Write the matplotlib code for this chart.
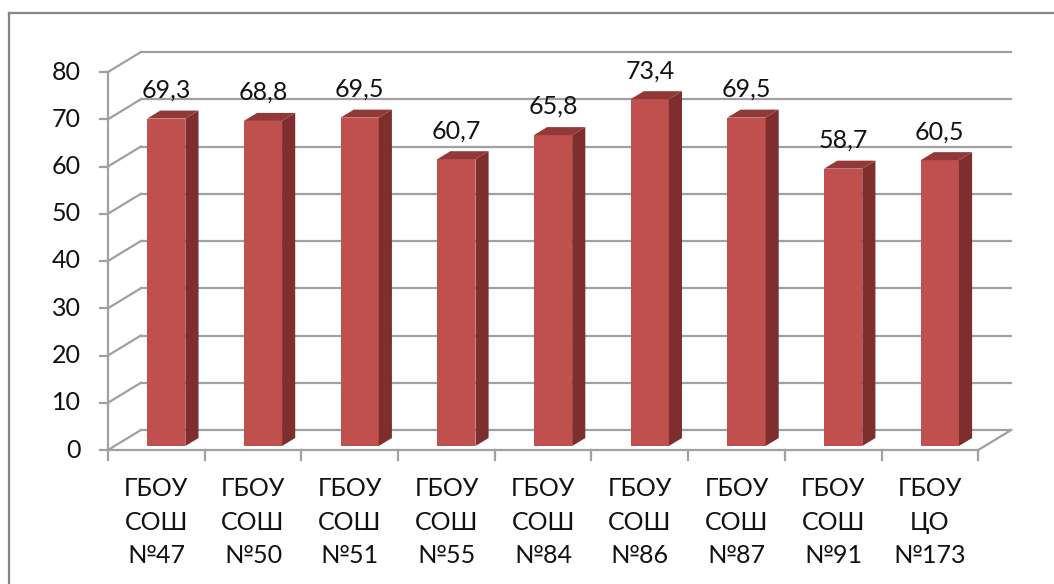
import numpy as np
import matplotlib.pyplot as plt
from matplotlib.patches import Polygon
from matplotlib.lines import Line2D

plt.rcParams['font.family'] = ['Lato', 'DejaVu Sans']

categories = ["ГБОУ\nСОШ\n№47", "ГБОУ\nСОШ\n№50", "ГБОУ\nСОШ\n№51",
              "ГБОУ\nСОШ\n№55", "ГБОУ\nСОШ\n№84", "ГБОУ\nСОШ\n№86",
              "ГБОУ\nСОШ\n№87", "ГБОУ\nСОШ\n№91", "ГБОУ\nЦО\n№173"]
values = [69.3, 68.8, 69.5, 60.7, 65.8, 73.4, 69.5, 58.7, 60.5]
labels = ["69,3", "68,8", "69,5", "60,7", "65,8", "73,4", "69,5", "58,7", "60,5"]
y_ticks = [0, 10, 20, 30, 40, 50, 60, 70, 80]

W, H = 1054, 584
X0_PX, SPACING = 108, 96.7      # front axis origin, category width in pixels
Y0_PX, PPU = 450, 4.725         # zero line, pixels per unit
DX, DY = 0.34, 4.23             # depth of the 3d box in data units

GRID = "#A0A0A0"
FRONT = "#C0504D"
SIDE = "#7E2F2D"
TOP = "#923937"
TXT = "#111111"
FS = 18

fig = plt.figure(figsize=(W / 100, H / 100), dpi=100)
ax = fig.add_axes([0, 0, 1, 1])
ax.set_xlim(-X0_PX / SPACING, (W - X0_PX) / SPACING)
ax.set_ylim(-(H - Y0_PX) / PPU, Y0_PX / PPU)
ax.axis("off")

n = len(values)

# chart area border (cut off at right and bottom)
fig.add_artist(Line2D([9 / W, 1.0], [1 - 13 / H, 1 - 13 / H], color="#868686", lw=1.6))
fig.add_artist(Line2D([9 / W, 9 / W], [1 - 13 / H, 0.0], color="#868686", lw=1.6))

# back wall gridlines and side wall diagonals
for v in y_ticks:
    ax.plot([DX, n + DX], [v + DY, v + DY], color=GRID, lw=1.6, zorder=1)
    ax.plot([0, DX], [v, v + DY], color=GRID, lw=1.6, zorder=1)
    ax.plot([-0.08, 0], [v, v], color=GRID, lw=1.6, zorder=1)
    ax.text(-0.28, v, str(v), ha="right", va="center", fontsize=FS, color=TXT)

# front axis and floor
ax.plot([0, 0], [0, y_ticks[-1]], color=GRID, lw=1.6, zorder=1)
ax.plot([0, n], [0, 0], color=GRID, lw=1.6, zorder=1)
ax.plot([n, n + DX], [0, DY], color=GRID, lw=1.6, zorder=1)
for i in range(n + 1):
    ax.plot([i, i], [0, -2.1], color=GRID, lw=1.6, zorder=1)

# 3d bars
f0, f1 = 0.2, 0.6
bw = 0.395
for i, v in enumerate(values):
    x0 = i + 0.405
    y0 = f0 * DY
    x1 = x0 + bw
    sx, sy = (f1 - f0) * DX, (f1 - f0) * DY
    front = Polygon([(x0, y0), (x1, y0), (x1, y0 + v), (x0, y0 + v)],
                    closed=True, facecolor=FRONT, edgecolor="none", zorder=3)
    side = Polygon([(x1, y0), (x1 + sx, y0 + sy), (x1 + sx, y0 + sy + v), (x1, y0 + v)],
                   closed=True, facecolor=SIDE, edgecolor="none", zorder=3)
    top = Polygon([(x0, y0 + v), (x1, y0 + v), (x1 + sx, y0 + sy + v), (x0 + sx, y0 + sy + v)],
                  closed=True, facecolor=TOP, edgecolor="none", zorder=3)
    for p in (front, side, top):
        ax.add_patch(p)
    ax.text(x0 + bw / 2, v + 5.3, labels[i], ha="center", va="baseline",
            fontsize=FS, color=TXT, zorder=4)

# category labels
for i, c in enumerate(categories):
    ax.text(i + 0.5, -5.8, c, ha="center", va="top", fontsize=FS,
            linespacing=1.55, color=TXT)

fig.savefig("out.png", dpi=100)
